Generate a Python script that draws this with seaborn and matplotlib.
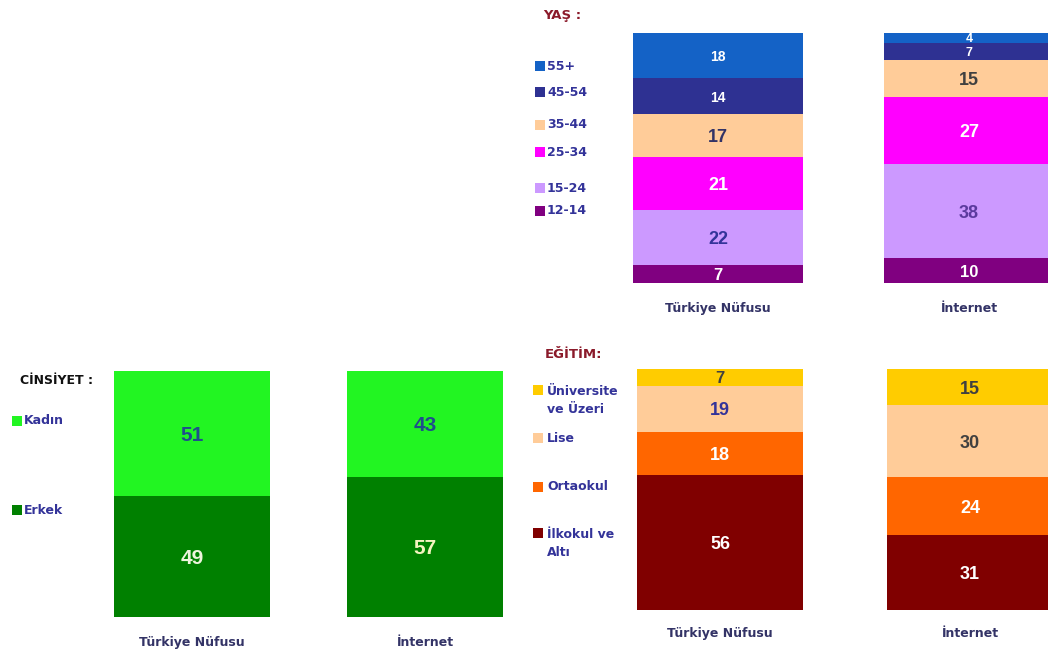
import numpy as np
import matplotlib
matplotlib.use("Agg")
import matplotlib.pyplot as plt
import seaborn as sns
from matplotlib.patches import Rectangle
from matplotlib import font_manager

# ---------------- data ----------------
groups = ["Türkiye Nüfusu", "İnternet"]

age_labels = ["12-14", "15-24", "25-34", "35-44", "45-54", "55+"]   # bottom -> top
age_turkiye = [7, 22, 21, 17, 14, 18]
age_internet = [10, 38, 27, 15, 7, 4]

gender_labels = ["Erkek", "Kadın"]                                 # bottom -> top
gender_turkiye = [49, 51]
gender_internet = [57, 43]

edu_labels = ["İlkokul ve\nAltı", "Ortaokul", "Lise", "Üniversite\nve Üzeri"]  # bottom -> top
edu_turkiye = [56, 18, 19, 7]
edu_internet = [31, 24, 30, 15]

# ---------------- style ----------------
age_colors = ["#800080", "#CC99FF", "#FF00FF", "#FFCC99", "#2E3192", "#1462C6"]
gender_colors = ["#008000", "#22F522"]
edu_colors = ["#800000", "#FF6600", "#FFCC99", "#FFCC00"]

age_txt = [["white", "#333399", "white", "#333366", "white", "white"],
           ["white", "#5B3A9E", "white", "#404040", "white", "white"]]
age_fs = [[12, 13, 13, 13, 10, 10], [12, 13, 13, 13, 9, 9]]
gender_txt = [["#EEF5DD", "#1F4E8C"], ["#F5F5C0", "#1F4E8C"]]
gender_fs = [[15, 15], [15, 15]]
edu_txt = [["white", "white", "#333399", "#404040"],
           ["white", "white", "#404040", "#404040"]]
edu_fs = [[13, 13, 13, 12], [13, 13, 13, 13]]

LEG_COLOR = "#333399"
TICK_COLOR = "#333366"
TITLE_RED = "#8B1A2A"

sns.set_theme(style="white")
plt.rcParams["font.family"] = ["DejaVu Sans"]

available = {f.name for f in font_manager.fontManager.ttflist}
NARROW = "Liberation Sans Narrow" if "Liberation Sans Narrow" in available else "Liberation Sans"

W, H = 1048, 655
fig = plt.figure(figsize=(W / 100, H / 100), dpi=100)
fig.patch.set_facecolor("white")


def px_axes(l, t, r, b):
    return fig.add_axes([l / W, 1 - b / H, (r - l) / W, (b - t) / H])


def draw_panel(ax, series_list, colors, txt_colors, font_sizes, width, pad,
               num_family="Liberation Sans"):
    pcts = [np.array(s, float) / np.sum(s) * 100 for s in series_list]
    cums = [np.cumsum(p) for p in pcts]
    n = len(colors)
    for k in range(n - 1, -1, -1):
        yv = [c[k] for c in cums]
        sns.barplot(x=groups, y=yv, color=colors[k], saturation=1, width=width,
                    errorbar=None, ax=ax, linewidth=0, edgecolor="none")
    for i, (s, p, c) in enumerate(zip(series_list, pcts, cums)):
        for k in range(n):
            ax.text(i, c[k] - p[k] / 2, str(s[k]), ha="center", va="center_baseline",
                    color=txt_colors[i][k], fontsize=font_sizes[i][k],
                    fontweight="bold", family=[num_family])
    ax.set_xlim(-0.5, 1.5)
    ax.set_ylim(0, 100)
    ax.set_xlabel("")
    ax.set_ylabel("")
    ax.set_yticks([])
    for sp in ax.spines.values():
        sp.set_visible(False)
    ax.set_facecolor("none")
    ax.tick_params(axis="x", length=0, pad=pad, labelsize=9, labelcolor=TICK_COLOR)
    for lab in ax.get_xticklabels():
        lab.set_fontweight("bold")


def legend_item(x_sq, y, color, text, x_txt, size=10):
    fig.patches.append(Rectangle((x_sq / W, 1 - (y + size / 2) / H), size / W, size / H,
                                 transform=fig.transFigure, facecolor=color,
                                 edgecolor="none"))
    fig.text(x_txt / W, 1 - y / H, text, ha="left", va="center", fontsize=9,
             fontweight="bold", color=LEG_COLOR, linespacing=1.45)


# ---------------- panels ----------------
ax_age = px_axes(592.5, 33, 1094.5, 283)
draw_panel(ax_age, [age_turkiye, age_internet], age_colors, age_txt, age_fs, 0.677, 13.5)

ax_gen = px_axes(75.5, 371, 541.5, 617)
draw_panel(ax_gen, [gender_turkiye, gender_internet], gender_colors, gender_txt,
           gender_fs, 0.67, 13.5, num_family=NARROW)

ax_edu = px_axes(595, 369, 1095, 610)
draw_panel(ax_edu, [edu_turkiye, edu_internet], edu_colors, edu_txt, edu_fs, 0.664, 12)

# ---------------- titles & legends ----------------
fig.text(543 / W, 1 - 15 / H, "YAŞ :", ha="left", va="center", fontsize=9.5,
         fontweight="bold", color=TITLE_RED)
age_leg_y = [211, 188, 152, 125, 92, 66]
for lab, col, yy in zip(age_labels, age_colors, age_leg_y):
    legend_item(535, yy, col, lab, 547)

fig.text(20 / W, 1 - 381 / H, "CİNSİYET :", ha="left", va="center", fontsize=9,
         fontweight="bold", color="#111111")
gen_leg_y = [510, 421]
for lab, col, yy in zip(gender_labels, gender_colors, gen_leg_y):
    legend_item(12, yy, col, lab, 24)

fig.text(545 / W, 1 - 355 / H, "EĞİTİM:", ha="left", va="center", fontsize=9.5,
         fontweight="bold", color=TITLE_RED)
edu_leg_y = [543.5, 487, 438, 400.5]
for lab, col, yy in zip(edu_labels, edu_colors, edu_leg_y):
    nlines = lab.count("\n") + 1
    sq_y = yy - (nlines - 1) * 10.5
    fig.patches.append(Rectangle((533 / W, 1 - (sq_y + 5) / H), 10 / W, 10 / H,
                                 transform=fig.transFigure, facecolor=col,
                                 edgecolor="none"))
    fig.text(547 / W, 1 - yy / H, lab, ha="left", va="center", fontsize=9,
             fontweight="bold", color=LEG_COLOR, linespacing=1.45)

fig.savefig("out.png", dpi=100)
